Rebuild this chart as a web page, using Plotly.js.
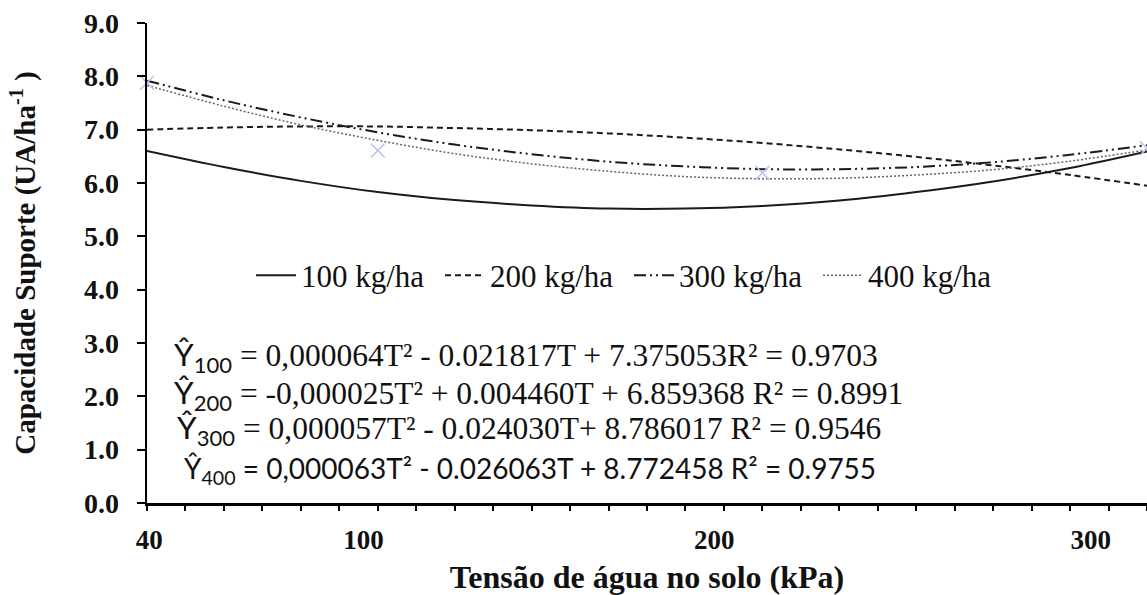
<!DOCTYPE html>
<html>
<head>
<meta charset="utf-8">
<script src="https://cdn.plot.ly/plotly-3.0.1.min.js"></script>
<style>
  html, body { margin: 0; padding: 0; background: #fff; }
  #chart { width: 1147px; height: 595px; }
</style>
</head>
<body>
<div id="chart"></div>
<script>
// Soil water tension (kPa) at which the fitted curves are sampled
const tension = [40, 60, 80, 100, 120, 140, 160, 180, 200, 220, 240, 260, 280, 300];

// Fitted carrying capacity (UA/ha) for each nitrogen dose
const fit100 = [6.60, 6.30, 6.04, 5.83, 5.68, 5.58, 5.52, 5.52, 5.57, 5.67, 5.83, 6.03, 6.28, 6.59];
const fit200 = [7.00, 7.04, 7.06, 7.06, 7.03, 6.99, 6.93, 6.85, 6.75, 6.63, 6.49, 6.33, 6.15, 5.95];
const fit300 = [7.92, 7.55, 7.23, 6.95, 6.72, 6.54, 6.40, 6.31, 6.26, 6.26, 6.30, 6.39, 6.53, 6.71];
const fit400 = [7.83, 7.44, 7.09, 6.80, 6.55, 6.36, 6.22, 6.12, 6.08, 6.09, 6.15, 6.25, 6.41, 6.62];

// Observed points of the 400 kg/ha dose
const obsTension = [40, 100, 200, 300];
const obs400 = [7.88, 6.61, 6.19, 6.65];

// Series names
const seriesNames = ['100 kg/ha', '200 kg/ha', '300 kg/ha', '400 kg/ha'];

// X tick labels and where they are printed
const xTickPos = [40.6, 96.3, 187.5, 285.4];
const xTickText = ['40', '100', '200', '300'];

// Regression equations: symbol part (sans) and coefficient part
const eqSymbol = ['Ŷ', 'Ŷ', 'Ŷ', 'Ŷ'];
const eqIndex = ['100', '200', '300', '400'];
const eqBody = [
  ' = 0,000064T² - 0.021817T + 7.375053R² = 0.9703',
  ' = -0,000025T² + 0.004460T + 6.859368 R² = 0.8991',
  ' = 0,000057T² - 0.024030T+ 8.786017 R² = 0.9546',
  ' = 0,000063T² - 0.026063T + 8.772458 R² = 0.9755'
];
const eqBodyFont = ['Liberation Serif', 'Liberation Serif', 'Liberation Serif', 'Lato'];
const eqSize = [31.5, 31.5, 31.5, 28];
const eqX = [0.025, 0.025, 0.028, 0.035];
const eqY = [0.305, 0.227, 0.154, 0.069];

const serif = 'Liberation Serif, Times New Roman, serif';

const traces = [
  { x: tension, y: fit100, name: seriesNames[0], mode: 'lines',
    line: { color: '#1a1a1a', width: 2, shape: 'spline' } },
  { x: tension, y: fit200, name: seriesNames[1], mode: 'lines',
    line: { color: '#1a1a1a', width: 2, dash: '6px,4px', shape: 'spline' } },
  { x: tension, y: fit300, name: seriesNames[2], mode: 'lines',
    line: { color: '#1a1a1a', width: 2, dash: '12px,4px,2px,4px,2px,4px', shape: 'spline' } },
  { x: tension, y: fit400, name: seriesNames[3], mode: 'lines',
    line: { color: '#666', width: 1.5, dash: '2px,2px', shape: 'spline' } },
  { x: obsTension, y: obs400, name: seriesNames[3], mode: 'markers', showlegend: false,
    cliponaxis: false,
    marker: { symbol: 'x-thin-open', size: 14, line: { color: '#b9c3ef', width: 1.5 }, color: '#b9c3ef' } }
];

const annotations = eqBody.map((body, i) => ({
  text: '<span style="font-family:Lato">' + eqSymbol[i] + '</span>' +
        '<sub><span style="font-family:Lato">' + eqIndex[i] + '</span></sub>' +
        '<span style="font-family:' + eqBodyFont[i] + '">' + body + '</span>',
  xref: 'paper', yref: 'paper', x: eqX[i], y: eqY[i],
  xanchor: 'left', yanchor: 'middle', showarrow: false,
  font: { family: eqBodyFont[i], size: eqSize[i], color: '#111' }
}));

const layout = {
  width: 1147, height: 595,
  margin: { l: 147, r: 0, t: 23, b: 92 },
  paper_bgcolor: '#fff', plot_bgcolor: '#fff',
  showlegend: true,
  legend: {
    orientation: 'h', x: 0.104, y: 0.474, xanchor: 'left', yanchor: 'middle',
    font: { family: serif, size: 31, color: '#111' },
    bgcolor: 'rgba(0,0,0,0)', itemwidth: 40, entrywidth: 134
  },
  xaxis: {
    range: [40, 300], showgrid: false, zeroline: false,
    showline: true, linecolor: '#000', linewidth: 2.5,
    tickmode: 'array', tickvals: xTickPos, ticktext: xTickText,
    ticks: '', ticklabelstandoff: 11,
    tickfont: { family: serif, size: 27, color: '#111', weight: 'bold' },
    minor: { tickmode: 'linear', tick0: 40, dtick: 10, ticks: 'outside', ticklen: 5, tickwidth: 2, tickcolor: '#000' },
    title: { text: 'Tensão de água no solo (kPa)', standoff: 14,
             font: { family: serif, size: 32, color: '#111', weight: 'bold' } }
  },
  xaxis2: {
    overlaying: 'x', matches: 'x', range: [40, 300], side: 'bottom',
    showgrid: false, zeroline: false, showline: false, showticklabels: false,
    tickmode: 'linear', tick0: 40, dtick: 60, ticks: 'outside', ticklen: 8, tickwidth: 2, tickcolor: '#000'
  },
  yaxis: {
    range: [0, 9], dtick: 1, tick0: 0, tickformat: '.1f',
    showgrid: false, zeroline: false,
    showline: true, linecolor: '#000', linewidth: 2.5,
    ticks: 'outside', ticklen: 8, tickwidth: 2, tickcolor: '#000',
    ticklabelstandoff: 12,
    tickfont: { family: serif, size: 28, color: '#111', weight: 'bold' },
    title: { text: 'Capacidade Suporte (UA/ha<sup>-1</sup> )', standoff: 40,
             font: { family: serif, size: 29, color: '#111', weight: 'bold' } }
  },
  annotations: annotations
};

Plotly.newPlot('chart', traces, layout, { staticPlot: true, displayModeBar: false });
</script>
</body>
</html>
